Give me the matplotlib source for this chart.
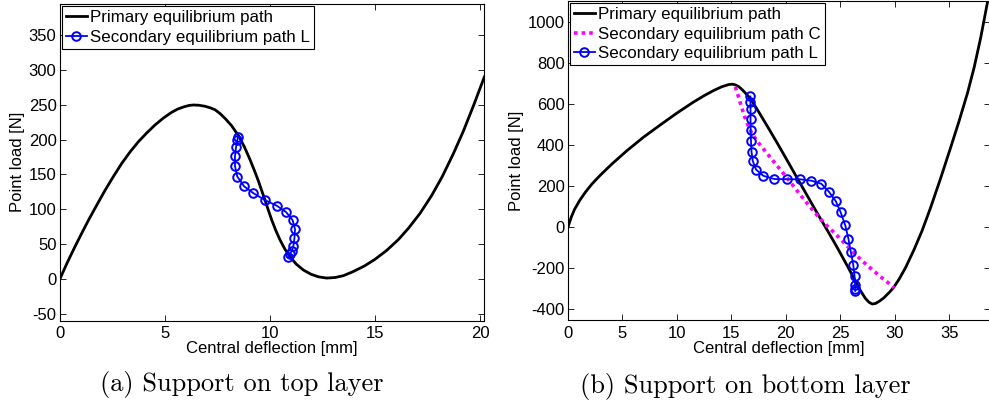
import matplotlib
matplotlib.use("Agg")
import matplotlib.pyplot as plt

plt.rcParams['font.family'] = ['Liberation Sans', 'DejaVu Sans']
plt.rcParams['axes.unicode_minus'] = False

# ---------------- Panel (a): support on top layer ----------------
a_prim_x = [0, 0.35, 0.71, 1.0, 1.35, 1.75, 2.14, 2.55, 2.94, 3.35, 3.73, 4.12, 4.52, 4.92,
            5.32, 5.6, 5.9, 6.15, 6.35, 6.6, 6.9, 7.15, 7.38, 7.62, 7.86, 8.17, 8.49, 8.78,
            9.05, 9.25, 9.44, 9.6, 9.76, 9.92, 10.08, 10.28, 10.48, 10.7, 10.95, 11.25,
            11.59, 11.95, 12.3, 12.7, 13.1, 13.5, 13.97, 14.5, 15.0, 15.56, 16.1, 16.6,
            17.14, 17.7, 18.2, 18.73, 19.2, 19.7, 20.2]
a_prim_y = [0, 23.5, 46, 63.4, 83.9, 105.9, 126.9, 147.4, 165.9, 182.9, 196.9, 209.4, 221, 231,
            239.4, 243.9, 247.2, 249.2, 249.8, 249.5, 248, 245.8, 243, 237.5, 230.5, 220, 206,
            189.5, 171, 156, 141, 127, 113, 98.5, 84.5, 69, 55.5, 43, 31.5, 21,
            12.5, 6.5, 2.8, 1, 1.8, 4.5, 10.5, 18.5, 28, 41, 56, 73,
            94, 120, 147, 180, 212, 250, 290]

a_L_x = [8.47, 8.44, 8.38, 8.33, 8.33, 8.44, 8.76, 9.21, 9.76, 10.32, 10.76, 11.08,
         11.19, 11.16, 11.11, 11.03, 10.95, 10.87]
a_L_y = [204, 199, 189, 176, 162, 147, 133, 123, 113, 105, 96, 84, 71, 58, 47, 40, 35, 31]

a_xticks = [0, 5, 10, 15, 20]
a_yticks = [-50, 0, 50, 100, 150, 200, 250, 300, 350]

# ---------------- Panel (b): support on bottom layer ----------------
b_prim_x = [0, 0.3, 0.6, 1.1, 1.6, 2.2, 2.95, 4.0, 5.4, 6.9, 8.47, 10.0, 11.53, 12.5, 13.37,
            14.1, 14.75, 15.1, 15.4, 15.7, 16.0, 16.45, 16.9, 17.3, 17.67, 18.5, 19.35,
            20.2, 21.05, 22.0, 22.89, 23.7, 24.42, 25.03, 25.65, 26.3, 26.87, 27.3, 27.65,
            27.95, 28.25, 28.6, 29.0, 29.3, 29.63, 29.94, 30.4, 31.0, 31.78, 32.5, 33.3,
            34.23, 35.15, 35.9, 36.69, 37.3, 37.9, 38.53, 38.75]
b_prim_y = [0, 48, 86, 132, 170, 210, 252, 306, 372, 437, 498, 556, 610, 641, 666,
            684, 695, 697, 693, 684, 670, 645, 613, 580, 548, 474, 397,
            318, 238, 150, 67, -6, -72, -130, -190, -255, -312, -348, -368,
            -376, -373, -362, -346, -330, -312, -292, -255, -198, -110, -20, 95,
            240, 390, 515, 655, 780, 925, 1100, 1165]

b_C_x = [15.37, 15.6, 15.83, 16.1, 16.4, 16.9, 17.5, 18.2, 19.0, 19.8, 20.6, 21.4, 22.2,
         23.0, 23.8, 24.6, 25.4, 26.2, 27.0, 27.8, 28.6, 29.3, 29.94]
b_C_y = [684, 645, 604, 558, 512, 455, 410, 364, 312, 260, 207, 152, 100,
         50, 5, -36, -80, -124, -165, -202, -238, -268, -297]

b_L_x = [16.75, 16.75, 16.76, 16.76, 16.77, 16.8, 16.85, 16.97, 17.27, 17.93, 18.95, 20.07,
         21.26, 22.35, 23.26, 23.96, 24.6, 25.04, 25.46, 25.75, 25.98, 26.19, 26.31, 26.37,
         26.39, 26.37]
b_L_y = [637, 612, 575, 527, 474, 421, 367, 322, 280, 250, 234, 233,
         233, 226, 211, 172, 125, 71, 8, -58, -124, -184, -238, -283,
         -305, -312]

b_xticks = [0, 5, 10, 15, 20, 25, 30, 35]
b_yticks = [-400, -200, 0, 200, 400, 600, 800, 1000]

lbl_prim = "Primary equilibrium path"
lbl_C = "Secondary equilibrium path C"
lbl_L = "Secondary equilibrium path L"
xlabel = "Central deflection [mm]"
ylabel = "Point load [N]"
cap_a = "(a) Support on top layer"
cap_b = "(b) Support on bottom layer"

W, H = 989, 404
fig = plt.figure(figsize=(W / 100, H / 100), dpi=100)

def px_axes(l, t, r, b):
    return fig.add_axes([l / W, (H - b) / H, (r - l) / W, (b - t) / H])

ax1 = px_axes(60, 4, 484.3, 320.5)
ax2 = px_axes(568, 1, 990, 320)

fs_tick = 12
fs_lab = 12
fs_leg = 12.2
blue = (0, 0, 1)
mag = (1, 0, 1)

def style(ax):
    ax.tick_params(direction='in', top=True, right=True, length=4, width=0.6,
                   labelsize=fs_tick)
    ax.tick_params(axis='x', pad=4)
    ax.tick_params(axis='y', pad=2.5)
    for s in ax.spines.values():
        s.set_linewidth(0.8)
    ax.set_xlabel(xlabel, fontsize=fs_lab, labelpad=0)
    ax.set_ylabel(ylabel, fontsize=fs_lab, labelpad=2.5)

def legend(ax):
    leg = ax.legend(loc='upper left', fontsize=fs_leg, frameon=True, fancybox=False,
                    edgecolor='k', framealpha=1, borderaxespad=0.12, borderpad=0.25,
                    labelspacing=0.25, handlelength=1.2, handletextpad=0.2)
    leg.get_frame().set_linewidth(0.8)

# Panel a
ax1.plot(a_prim_x, a_prim_y, color='k', lw=2.0, label=lbl_prim, zorder=2)
ax1.plot(a_L_x, a_L_y, color=blue, lw=1.3, marker='o', ms=6.2, mfc='none', mec=blue,
         mew=1.4, label=lbl_L, zorder=3)
ax1.set_xlim(0, 20.2)
ax1.set_ylim(-60, 395)
ax1.set_xticks(a_xticks)
ax1.set_yticks(a_yticks)
style(ax1)
legend(ax1)

# Panel b
ax2.plot(b_prim_x, b_prim_y, color='k', lw=2.0, label=lbl_prim, zorder=2)
ax2.plot(b_C_x, b_C_y, color=mag, lw=2.6, ls=(0, (1, 1.1)), label=lbl_C, zorder=2.5)
ax2.plot(b_L_x, b_L_y, color=blue, lw=1.3, marker='o', ms=6.2, mfc='none', mec=blue,
         mew=1.4, label=lbl_L, zorder=3)
ax2.set_xlim(0, 38.75)
ax2.set_ylim(-454, 1103)
ax2.set_xticks(b_xticks)
ax2.set_yticks(b_yticks)
style(ax2)
legend(ax2)

# Captions
fig.text(242 / W, (H - 385) / H, cap_a, family='cmr10', fontsize=19,
         ha='center', va='center')
fig.text(745 / W, (H - 386) / H, cap_b, family='cmr10', fontsize=19,
         ha='center', va='center')

fig.savefig("out.png", dpi=100)
